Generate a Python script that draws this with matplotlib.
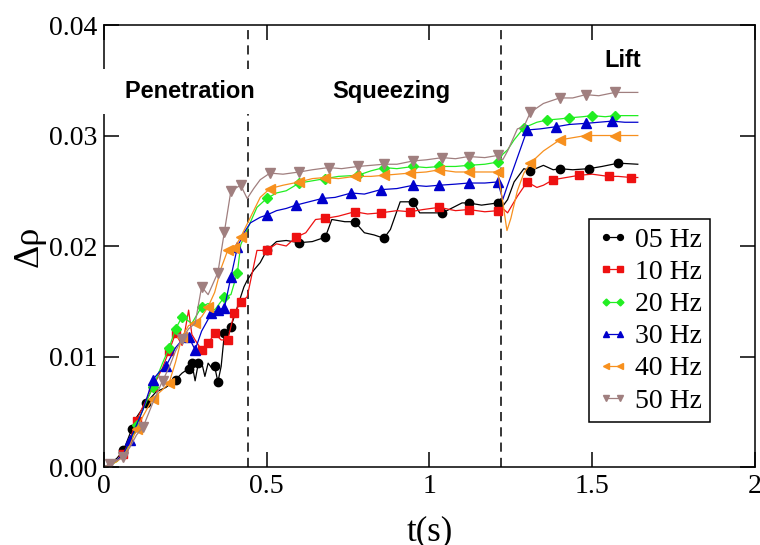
import numpy as np
import matplotlib
matplotlib.use('Agg')
import matplotlib.pyplot as plt

# density change (x1e-3), one curve per frequency
labels = ['05 Hz', '10 Hz', '20 Hz', '30 Hz', '40 Hz', '50 Hz']

t05 = [0, .02, .04, .06, .085, .10, .13, .16, .19, .22, .24, .26, .27, .28, .29, .30, .31, .32, .33, .34,
       .35, .36, .37, .39, .41, .43, .44, .46, .48, .50, .53, .56, .60, .64, .68, .70, .74, .77, .80, .83,
       .86, .88, .91, .95, .97, 1.00, 1.04, 1.08, 1.10, 1.12, 1.16, 1.21, 1.225, 1.24, 1.26, 1.29, 1.31,
       1.35, 1.38, 1.40, 1.44, 1.49, 1.53, 1.58, 1.64]
y05 = [0, .3, .8, 1.5, 3.4, 4.5, 5.8, 6.8, 7.2, 7.9, 8.5, 8.9, 9.4, 7.8, 9.4, 9.5, 8.2, 9.4, 9.0, 9.1,
       7.7, 9.1, 12.1, 12.7, 14.5, 16.3, 16.9, 17.8, 18.5, 19.6, 20.4, 20.5, 20.3, 20.4, 20.8, 22.4, 22.2,
       22.2, 21.2, 21.0, 20.7, 21.5, 24.0, 24.0, 23.0, 23.0, 23.0, 23.6, 23.9, 23.9, 23.7, 23.9, 23.6,
       24.2, 25.8, 27.0, 26.8, 27.3, 26.9, 27.0, 26.9, 27.0, 27.2, 27.5, 27.4]

t10 = [0, .02, .04, .06, .08, .10, .12, .15, .18, .20, .22, .24, .25, .26, .27, .28, .30, .32, .34, .36,
       .38, .40, .42, .44, .455, .47, .50, .53, .56, .59, .62, .65, .68, .72, .77, .81, .85, .90, .94, .98,
       1.03, 1.08, 1.12, 1.17, 1.21, 1.225, 1.24, 1.27, 1.30, 1.33, 1.35, 1.38, 1.42, 1.46, 1.50, 1.55,
       1.58, 1.62, 1.64]
y10 = [0, .2, .6, 1.2, 2.5, 4.2, 5.5, 7.2, 9.0, 10.5, 12.1, 11.0, 12.5, 14.2, 12.0, 11.5, 10.6, 11.2,
       12.1, 11.5, 11.5, 13.9, 14.9, 15.4, 17.5, 19.6, 19.6, 20.2, 20.0, 20.8, 21.2, 22.4, 22.5, 22.7,
       23.1, 22.9, 23.0, 23.2, 23.1, 23.3, 23.5, 23.2, 23.3, 23.1, 23.2, 23.4, 23.0, 24.5, 25.8, 25.3,
       25.5, 26.0, 26.2, 26.4, 26.5, 26.3, 26.3, 26.2, 26.2]

t20 = [0, .02, .04, .06, .08, .10, .12, .15, .18, .20, .22, .24, .27, .30, .32, .34, .37, .39, .41, .42,
       .44, .47, .50, .53, .56, .60, .64, .68, .72, .78, .82, .86, .90, .95, .99, 1.03, 1.08, 1.12, 1.17,
       1.21, 1.225, 1.24, 1.26, 1.29, 1.33, 1.36, 1.40, 1.43, 1.47, 1.50, 1.54, 1.57, 1.64]
y20 = [0, .2, .5, 1.1, 2.2, 3.8, 5.2, 7.2, 9.4, 10.8, 12.5, 13.6, 13.0, 14.5, 14.8, 14.2, 15.4, 15.6,
       17.6, 20.1, 21.5, 23.5, 24.3, 24.8, 25.0, 25.7, 25.9, 26.1, 26.3, 26.4, 26.8, 27.1, 27.0, 27.2,
       27.1, 27.2, 27.2, 27.3, 27.4, 27.6, 28.3, 28.7, 29.6, 30.7, 31.2, 31.4, 31.5, 31.6, 31.7, 31.8,
       31.7, 31.8, 31.8]

t30 = [0, .02, .04, .06, .08, .10, .12, .15, .17, .19, .22, .24, .26, .28, .30, .33, .35, .37, .39, .41,
       .43, .45, .48, .50, .53, .56, .59, .63, .67, .71, .76, .80, .85, .90, .95, .99, 1.03, 1.08, 1.12,
       1.17, 1.21, 1.225, 1.24, 1.27, 1.30, 1.34, 1.39, 1.43, 1.48, 1.52, 1.56, 1.60, 1.64]
y30 = [0, .2, .6, 1.2, 2.4, 3.8, 5.2, 7.9, 8.6, 9.1, 10.8, 11.5, 11.8, 10.6, 12.3, 13.9, 14.2, 14.4,
       17.2, 19.9, 21.2, 22.1, 22.6, 22.8, 23.2, 23.4, 23.7, 24.0, 24.3, 24.4, 24.8, 24.7, 25.1, 25.2,
       25.5, 25.4, 25.5, 25.6, 25.7, 25.7, 25.8, 24.2, 25.5, 28.0, 30.5, 30.6, 30.8, 31.0, 31.1, 31.2,
       31.3, 31.2, 31.2]

t40 = [0, .02, .04, .06, .08, .10, .12, .15, .18, .20, .22, .24, .26, .28, .30, .32, .34, .36, .38, .40,
       .42, .45, .48, .51, .55, .60, .64, .68, .72, .77, .82, .86, .90, .94, .99, 1.03, 1.08, 1.12, 1.17,
       1.21, 1.225, 1.238, 1.25, 1.27, 1.29, 1.31, 1.35, 1.40, 1.44, 1.48, 1.53, 1.57, 1.64]
y40 = [0, .2, .5, 1.0, 2.0, 3.4, 4.6, 6.2, 7.0, 7.6, 9.5, 11.8, 12.8, 13.0, 13.6, 14.5, 15.8, 18.0,
       19.6, 19.8, 20.8, 22.6, 24.4, 25.2, 25.5, 25.8, 26.1, 26.2, 26.1, 26.3, 26.3, 26.4, 26.5, 26.6,
       26.7, 26.9, 26.7, 26.7, 26.7, 26.7, 24.0, 21.4, 22.5, 25.0, 26.6, 27.5, 28.6, 29.6, 29.8, 30.0,
       30.0, 30.0, 30.0]

t50 = [0, .02, .04, .06, .08, .10, .12, .15, .18, .20, .22, .24, .26, .28, .30, .32, .35, .37, .39, .42,
       .44, .46, .48, .51, .55, .60, .64, .69, .73, .78, .82, .86, .90, .95, .99, 1.04, 1.08, 1.12, 1.17,
       1.21, 1.225, 1.24, 1.27, 1.29, 1.31, 1.35, 1.40, 1.44, 1.48, 1.52, 1.57, 1.61, 1.64]
y50 = [0, .3, .6, .9, 1.8, 2.9, 3.6, 5.8, 7.8, 9.0, 10.5, 11.6, 12.5, 13.0, 16.3, 15.6, 17.6, 21.3,
       25.0, 25.5, 24.3, 25.2, 26.0, 26.6, 26.5, 26.7, 26.9, 27.1, 27.0, 27.2, 27.3, 27.4, 27.4, 27.7,
       27.8, 28.0, 27.9, 28.1, 28.0, 28.2, 27.8, 28.6, 30.6, 30.8, 32.1, 32.9, 33.4, 33.4, 33.7, 33.6,
       33.9, 33.9, 33.9]

times = [t05, t10, t20, t30, t40, t50]
values = [y05, y10, y20, y30, y40, y50]

# where the symbols sit along each curve
marks = [
    [.06, .085, .13, .22, .26, .27, .29, .34, .35, .37, .39, .50, .60, .68, .77, .86, .95, 1.04, 1.12, 1.21, 1.31, 1.40, 1.49, 1.58],
    [.06, .10, .15, .20, .22, .30, .32, .34, .38, .40, .42, .50, .59, .68, .77, .85, .94, 1.03, 1.12, 1.21, 1.30, 1.38, 1.46, 1.55, 1.62],
    [.10, .15, .20, .22, .24, .30, .37, .41, .50, .60, .68, .78, .86, .95, 1.03, 1.12, 1.21, 1.29, 1.36, 1.43, 1.50, 1.57],
    [.08, .15, .19, .26, .28, .33, .35, .37, .39, .41, .50, .59, .67, .76, .85, .95, 1.03, 1.12, 1.21, 1.30, 1.39, 1.48, 1.56],
    [.10, .15, .20, .24, .28, .32, .38, .40, .42, .51, .60, .68, .77, .86, .94, 1.03, 1.12, 1.21, 1.31, 1.40, 1.48, 1.57],
    [.02, .06, .12, .18, .24, .30, .35, .37, .39, .42, .51, .60, .69, .78, .86, .95, 1.04, 1.12, 1.21, 1.31, 1.40, 1.48, 1.57],
]

colors = ['#000000', '#ee1111', '#22ee22', '#0000cc', '#f7901e', '#a07f7f']
symbols = ['o', 's', 'D', '^', '<', 'v']
sizes = [6, 6, 5, 6.5, 6.5, 6.5]

phase_ends = [0.442, 1.219]

plt.rcParams['font.family'] = ['Liberation Serif', 'DejaVu Serif']

fig = plt.figure(figsize=(7.6, 5.45), dpi=100)
ax = fig.add_axes([0.1368, 0.1431, 0.8566, 0.8110])

for t, y, mk, c, s, ms, lab in zip(times, values, marks, colors, symbols, sizes, labels):
    t = np.array(t)
    y = np.array(y) * 1e-3
    idx = [int(np.argmin(np.abs(t - m))) for m in mk]
    ax.plot(t, y, color=c, lw=0.9, marker=s, ms=ms, mec=c, mfc=c, markevery=idx, label=lab)

for x in phase_ends:
    ax.axvline(x, color='black', lw=1.1, ls=(0, (6, 4)), zorder=1)

bold = dict(family=['Liberation Sans', 'DejaVu Sans'], weight='bold', fontsize=17)
box = dict(boxstyle='square,pad=0.45', fc='white', ec='none')
ax.text(0.464, 0.0334, '   Penetration', ha='right', va='baseline', bbox=box, zorder=6, **bold)
ax.text(0.882, 0.0334, 'Squeezing', ha='center', va='baseline', bbox=box, zorder=6, **bold)
ax.text(1.594, 0.0362, 'Lift', ha='center', va='baseline', zorder=6, **bold)

ax.set_xlim(0, 2)
ax.set_ylim(0, 0.04)
ax.set_xticks([0, 0.5, 1, 1.5, 2])
ax.set_xticklabels(['0', '0.5', '1', '1.5', '2'])
ax.set_yticks([0, 0.01, 0.02, 0.03, 0.04])
ax.set_yticklabels(['0.00', '0.01', '0.02', '0.03', '0.04'])
ax.tick_params(direction='in', length=11, width=1.1, labelsize=20, top=True, right=True, pad=5)
for sp in ax.spines.values():
    sp.set_linewidth(1.1)

ax.set_xlabel('t(s)', fontsize=25, labelpad=12)
ax.set_ylabel('\u0394\u03c1', fontsize=26, labelpad=2)

leg = ax.legend(loc='lower right', bbox_to_anchor=(0.931, 0.102), fontsize=20, numpoints=2,
                markerscale=0.7, handlelength=1.1, handletextpad=0.25, labelspacing=0.24,
                borderpad=0.3, borderaxespad=0, fancybox=False, framealpha=1, edgecolor='black')
leg.get_frame().set_linewidth(1.1)

plt.savefig('out.png', dpi=100)
